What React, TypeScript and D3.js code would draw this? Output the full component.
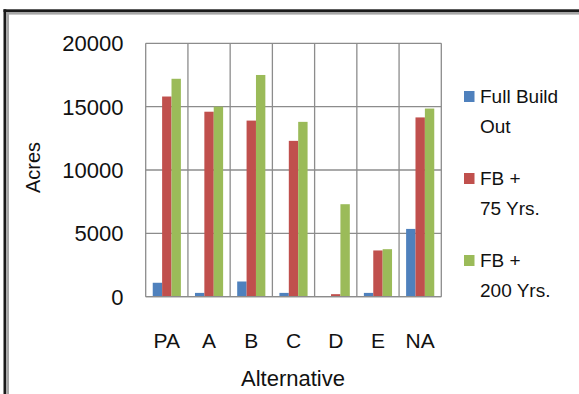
import React from "react";
import * as d3 from "d3";

const categories = ["PA", "A", "B", "C", "D", "E", "NA"];
const seriesNames = ["Full Build Out", "FB + 75 Yrs.", "FB + 200 Yrs."];
const fullBuildOut = [1100, 300, 1200, 300, 0, 300, 5350];
const fb75 = [15800, 14600, 13900, 12300, 200, 3650, 14150];
const fb200 = [17200, 15000, 17500, 13800, 7300, 3750, 14850];
const yTicks = [0, 5000, 10000, 15000, 20000];
const legendLines = [["Full Build", "Out"], ["FB +", "75 Yrs."], ["FB +", "200 Yrs."]];
const colors = ["#4F81BD", "#C0504D", "#9BBB59"];

const W = 579;
const H = 394;
const plot = { left: 145.7, right: 441.3, top: 43.3, bottom: 296.7 };
const FONT = "'Liberation Sans', Arial, sans-serif";

export default function App() {
  const series = [fullBuildOut, fb75, fb200];
  const x = d3.scaleBand<string>().domain(categories).range([plot.left, plot.right]).padding(0);
  const y = d3.scaleLinear().domain([0, 20000]).range([plot.bottom, plot.top]);
  const bw = x.bandwidth();
  const barW = bw / 4.5;
  const inner = d3
    .scaleBand<number>()
    .domain([0, 1, 2])
    .range([barW * 0.75, barW * 3.75])
    .padding(0);
  const gridColor = "#8c8c8c";

  return (
    <svg
      width={W}
      height={H}
      style={{ position: "absolute", left: 0, top: 0, background: "#fff" }}
    >
      {/* outer frame */}
      <rect x={3.5} y={9.3} width={W} height={2.7} fill="#1a1a1a" />
      <rect x={6.5} y={12} width={W} height={2.6} fill="#a6a6a6" />
      <rect x={3.5} y={9.3} width={2.8} height={H} fill="#1a1a1a" />
      <rect x={6.3} y={12} width={2.7} height={H} fill="#a6a6a6" />

      {/* horizontal gridlines */}
      {yTicks.map((t) => (
        <line
          key={"h" + t}
          x1={plot.left}
          x2={plot.right}
          y1={y(t)}
          y2={y(t)}
          stroke={gridColor}
          strokeWidth={1.3}
        />
      ))}
      {/* vertical gridlines */}
      {categories.map((c) => (
        <line
          key={"v" + c}
          x1={x(c)!}
          x2={x(c)!}
          y1={plot.top}
          y2={plot.bottom}
          stroke={gridColor}
          strokeWidth={1.3}
        />
      ))}
      <line
        x1={plot.right}
        x2={plot.right}
        y1={plot.top}
        y2={plot.bottom}
        stroke={gridColor}
        strokeWidth={1.3}
      />

      {/* bars */}
      {series.map((vals, si) =>
        vals.map((v, ci) => (
          <rect
            key={si + "-" + ci}
            x={x(categories[ci])! + inner(si)!}
            y={y(v)}
            width={inner.bandwidth()}
            height={plot.bottom - y(v)}
            fill={colors[si]}
          />
        ))
      )}
      <line
        x1={plot.left}
        x2={plot.right}
        y1={plot.bottom}
        y2={plot.bottom}
        stroke={gridColor}
        strokeWidth={1.3}
      />

      {/* y tick labels */}
      {yTicks.map((t) => (
        <text
          key={"yl" + t}
          x={123.5}
          y={y(t)}
          dy="0.36em"
          textAnchor="end"
          fontFamily={FONT}
          fontSize={22}
          fill="#111"
        >
          {t}
        </text>
      ))}

      {/* x tick labels */}
      {categories.map((c) => (
        <text
          key={"xl" + c}
          x={x(c)! + bw / 2}
          y={340}
          dy="0.36em"
          textAnchor="middle"
          fontFamily={FONT}
          fontSize={21}
          fill="#111"
        >
          {c}
        </text>
      ))}

      {/* axis titles */}
      <text
        x={293}
        y={378}
        dy="0.36em"
        textAnchor="middle"
        fontFamily={FONT}
        fontSize={22}
        fill="#111"
      >
        Alternative
      </text>
      <text
        transform={`translate(33,167.5) rotate(-90)`}
        dy="0.36em"
        textAnchor="middle"
        fontFamily={FONT}
        fontSize={20}
        fill="#111"
      >
        Acres
      </text>

      {/* legend */}
      {legendLines.map((lines, i) => {
        const cy = 96.5 + i * 82;
        return (
          <g key={"lg" + i}>
            <rect x={464} y={cy - 5.5} width={10.5} height={11} fill={colors[i]} />
            <text
              x={480}
              y={cy}
              dy="0.36em"
              fontFamily={FONT}
              fontSize={19}
              fill="#111"
            >
              {lines[0]}
            </text>
            <text
              x={480}
              y={cy + 30}
              dy="0.36em"
              fontFamily={FONT}
              fontSize={19}
              fill="#111"
            >
              {lines[1]}
            </text>
          </g>
        );
      })}
    </svg>
  );
}
